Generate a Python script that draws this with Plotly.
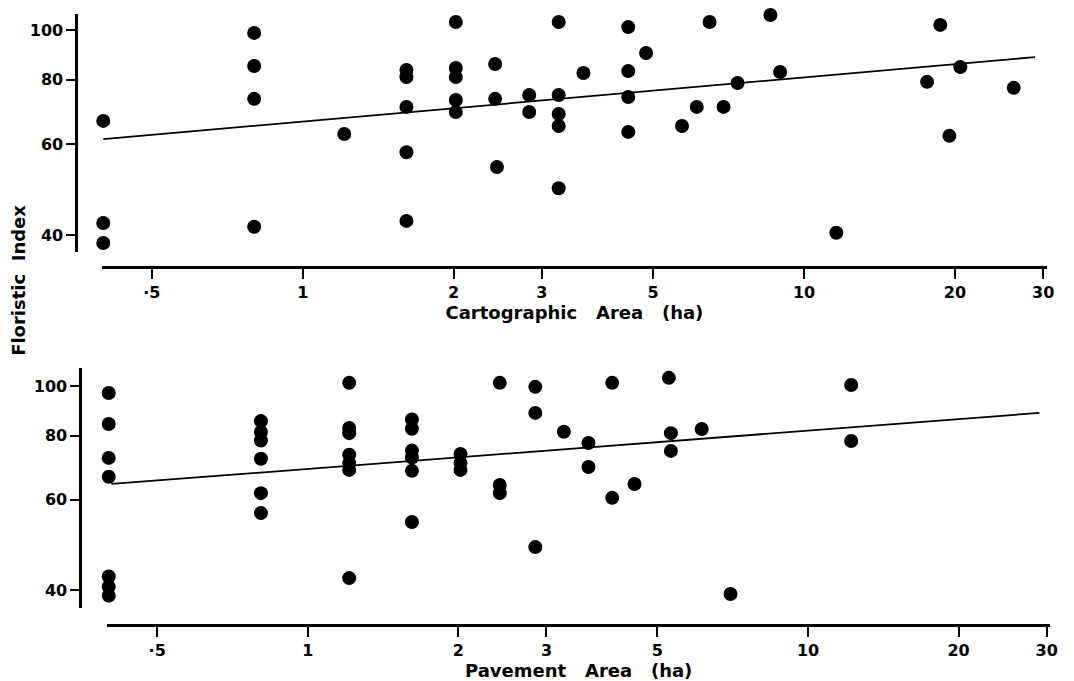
import plotly.graph_objects as go

# ---- Data ----
cart_area = [0.40, 0.40, 0.40, 0.80, 0.80, 0.80, 0.80, 1.21,
             2.02, 3.24, 4.46, 6.48, 4.84, 1.61, 1.61, 2.02, 2.02, 2.42,
             3.63, 4.46, 1.61, 2.02, 2.02, 2.42, 2.83, 2.83, 3.24, 3.24,
             3.24, 4.46, 4.46, 5.71, 6.11, 1.61, 2.44, 3.24, 1.61,
             8.57, 18.7, 6.91, 7.37, 8.96, 17.6, 20.5, 26.2, 19.5, 11.6]
cart_index = [66.6, 42.2, 38.6, 98.7, 85.1, 73.5, 41.5, 62.8,
              103.6, 103.6, 101.3, 103.6, 90.2, 83.6, 81.0, 84.4, 81.0, 85.9,
              82.5, 83.2, 70.9, 73.1, 69.3, 73.5, 74.8, 69.3, 74.8, 68.7,
              65.1, 74.1, 63.4, 65.1, 70.9, 57.9, 54.2, 49.3, 42.6,
              106.9, 102.3, 70.9, 78.9, 82.9, 79.3, 84.7, 77.2, 62.3, 40.4]
cart_fit_x = [0.40, 28.9]
cart_fit_y = [61.4, 88.6]

pave_area = [0.40, 0.40, 0.40, 0.40, 0.40, 0.40, 0.40,
             0.806, 0.806, 0.806, 0.806, 0.806, 0.806,
             1.21, 1.21, 1.21, 1.21, 1.21, 1.21, 1.21,
             1.615, 1.615, 1.615, 1.615, 1.615, 1.615,
             2.02, 2.02, 2.02,
             2.42, 2.42, 2.42, 2.85, 2.85, 2.85, 3.25, 3.64, 3.64,
             4.06, 4.06, 4.50, 5.27, 5.32, 5.32, 6.13, 12.2, 12.2, 7.0]
pave_index = [96.9, 84.3, 72.4, 66.5, 42.5, 40.6, 39.0,
              85.4, 81.3, 78.3, 72.1, 61.8, 56.5,
              101.4, 82.8, 80.9, 73.4, 70.8, 68.6, 42.2,
              86.0, 82.5, 74.8, 72.5, 68.3, 54.3,
              73.7, 70.8, 68.6,
              101.4, 64.1, 61.8, 99.6, 88.6, 48.5, 81.4, 77.4, 69.5,
              101.4, 60.5, 64.4, 103.7, 80.9, 74.7, 82.4, 100.4, 78.1, 39.3]
pave_fit_x = [0.405, 29.0]
pave_fit_y = [64.4, 88.6]

x_tickvals = [0.5, 1, 2, 3, 5, 10, 20, 30]
x_ticktext = ["·5", "1", "2", "3", "5", "10", "20", "30"]
y_tickvals = [40, 60, 80, 100]
y_ticktext = ["40", "60", "80", "100"]

W, H = 1074, 681
FONT = "DejaVu Sans"

fig = go.Figure()
mk = dict(color="black", size=14, line=dict(width=0))
fig.add_trace(go.Scatter(x=cart_area, y=cart_index, mode="markers", marker=mk,
                         cliponaxis=False, xaxis="x", yaxis="y", showlegend=False))
fig.add_trace(go.Scatter(x=cart_fit_x, y=cart_fit_y, mode="lines",
                         line=dict(color="black", width=1.8),
                         cliponaxis=False, xaxis="x", yaxis="y", showlegend=False))
fig.add_trace(go.Scatter(x=pave_area, y=pave_index, mode="markers", marker=mk,
                         cliponaxis=False, xaxis="x2", yaxis="y2", showlegend=False))
fig.add_trace(go.Scatter(x=pave_fit_x, y=pave_fit_y, mode="lines",
                         line=dict(color="black", width=1.8),
                         cliponaxis=False, xaxis="x2", yaxis="y2", showlegend=False))

tickfont = dict(family=FONT, size=16, color="black", weight="bold")
titlefont = dict(family=FONT, size=18, color="black", weight="bold")

def xax(dom_px, rng, pos_px, title):
    return dict(type="log", range=rng, domain=[dom_px[0] / W, dom_px[1] / W],
                anchor="free", position=1 - pos_px / H,
                tickvals=x_tickvals, ticktext=x_ticktext,
                ticks="outside", ticklen=10, tickwidth=2, tickcolor="black",
                showline=True, linewidth=3, linecolor="black",
                showgrid=False, zeroline=False, tickfont=tickfont,
                title=dict(text=title, font=titlefont, standoff=3))

def yax(dom_px, rng, pos_px):
    return dict(type="log", range=rng, domain=[1 - dom_px[1] / H, 1 - dom_px[0] / H],
                anchor="free", position=pos_px / W,
                tickvals=y_tickvals, ticktext=y_ticktext,
                ticks="outside", ticklen=9, tickwidth=2, tickcolor="black",
                showline=True, linewidth=3, linecolor="black",
                showgrid=False, zeroline=False, tickfont=tickfont)

fig.update_layout(
    width=W, height=H, margin=dict(l=0, r=0, t=0, b=0),
    paper_bgcolor="white", plot_bgcolor="white",
    xaxis=xax((102.5, 1055), [-0.401, 1.485], 267, "Cartographic   Area   (ha)"),
    yaxis=yax((14, 252), [1.569, 2.031], 77),
    xaxis2=xax((108, 1058), [-0.401, 1.484], 625, "Pavement   Area   (ha)"),
    yaxis2=yax((368, 608), [1.567, 2.035], 81),
    annotations=[dict(text="Floristic  Index", textangle=-90, showarrow=False,
                      xref="paper", yref="paper", x=18 / W, y=1 - 280 / H,
                      xanchor="center", yanchor="middle",
                      font=dict(family=FONT, size=18, color="black", weight="bold"))],
)

fig.write_html("out.html", config={"displayModeBar": False},
               post_script="document.body.style.margin='0';")
